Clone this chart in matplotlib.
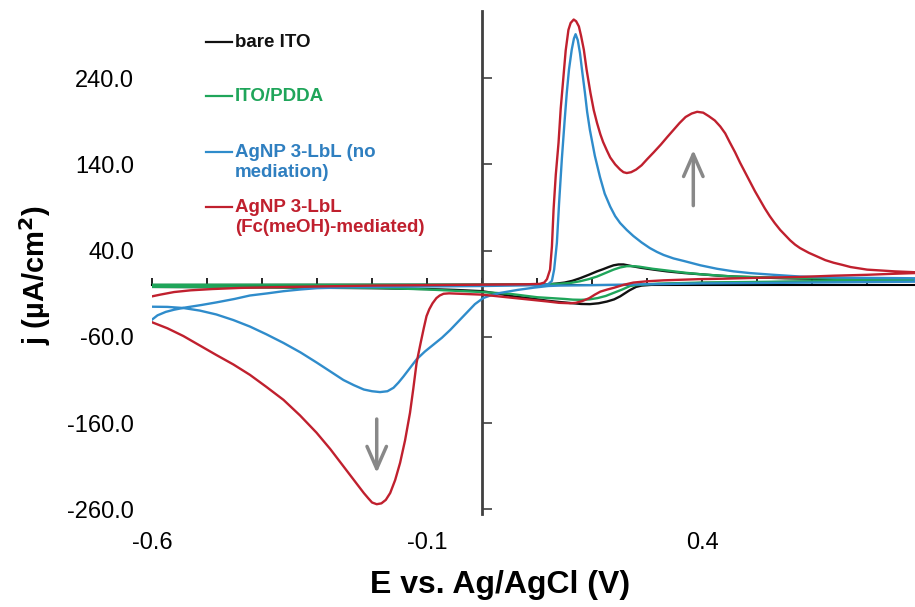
import numpy as np
from matplotlib import pyplot as plt
import matplotlib

# cyclic voltammograms: potential (V) and current density (uA/cm2)
# anodic branch first, then the return (cathodic) branch
red_E = [-0.600, -0.585, -0.560, -0.530, -0.490, -0.440, -0.380, -0.300, -0.200, -0.100, 0.000,
         0.080, 0.105, 0.113, 0.118, 0.1236, 0.127, 0.130, 0.134, 0.139, 0.143, 0.148, 0.152,
         0.157, 0.161, 0.1666, 0.171, 0.176, 0.180, 0.185, 0.190, 0.197, 0.203, 0.209, 0.215,
         0.220, 0.227, 0.233, 0.242, 0.251, 0.257, 0.263, 0.271, 0.280, 0.290, 0.300, 0.312,
         0.325, 0.337, 0.348, 0.359, 0.370, 0.381, 0.391, 0.402, 0.412, 0.423, 0.433, 0.442,
         0.450, 0.460, 0.469, 0.478, 0.487, 0.496, 0.505, 0.514, 0.523, 0.532, 0.542, 0.551,
         0.560, 0.569, 0.578, 0.594, 0.610, 0.624, 0.639, 0.655, 0.670, 0.685, 0.700, 0.725,
         0.750, 0.787,
         0.787, 0.740, 0.700, 0.640, 0.578, 0.500, 0.440, 0.396, 0.360, 0.330, 0.300, 0.275,
         0.258, 0.240, 0.228, 0.215, 0.205, 0.195, 0.182, 0.170, 0.160, 0.140, 0.120, 0.090,
         0.060, 0.030, 0.000, -0.020, -0.040, -0.060, -0.070, -0.077, -0.083, -0.090, -0.096,
         -0.101, -0.106, -0.112, -0.119, -0.125, -0.131, -0.140, -0.149, -0.158, -0.167,
         -0.175, -0.183, -0.1915, -0.200, -0.207, -0.215, -0.233, -0.252, -0.276, -0.301,
         -0.331, -0.361, -0.392, -0.422, -0.452, -0.483, -0.513, -0.543, -0.572, -0.600]
red_j = [-13, -11, -8, -6, -4.5, -3.2, -2.4, -1.5, -0.5, 0, 0.5,
         1, 1.5, 3, 7, 18, 45, 88, 128, 165, 205, 242, 272,
         296, 304, 308, 306, 300, 289, 273, 250, 223, 203, 188, 175,
         166, 156, 148, 140, 134, 131, 130, 131, 134, 139, 146, 154,
         163, 172, 180, 188, 195, 199, 201, 200, 196, 191, 184, 176,
         166, 154, 142, 131, 120, 109, 99, 89, 80, 72, 64, 58,
         52, 47, 43, 37.5, 33, 29, 26, 23.5, 21, 19.5, 18, 17,
         16, 15,
         14, 13, 12, 11, 9.5, 8.5, 7.5, 7, 6.3, 5.6, 4.5, 3,
         0.5, -3, -5, -7.5, -11, -15, -18.5, -20.5, -21, -20.5, -19, -17,
         -15, -13, -11, -10.5, -10, -9.5, -10, -12, -15, -21, -28,
         -36, -50, -68, -90, -120, -148, -180, -206, -226, -241,
         -249, -253, -254, -252, -247, -241, -226, -210, -190, -171,
         -151, -133, -118, -104, -92, -81, -70, -59, -50, -43]

blue_E = [-0.600, -0.590, -0.575, -0.560, -0.540, -0.510, -0.483, -0.450, -0.422, -0.390, -0.361,
          -0.330, -0.300, -0.240, -0.100, 0.000, 0.100, 0.120, 0.127, 0.131, 0.136, 0.140, 0.145,
          0.150, 0.154, 0.158, 0.163, 0.167, 0.170, 0.174, 0.178, 0.182, 0.187, 0.191, 0.196,
          0.205, 0.2145, 0.223, 0.233, 0.242, 0.251, 0.263, 0.275, 0.290, 0.305, 0.318, 0.330,
          0.348, 0.367, 0.397, 0.427, 0.457, 0.487, 0.530, 0.578, 0.630, 0.680, 0.787,
          0.787, 0.600, 0.400, 0.200, 0.140, 0.120, 0.093, 0.065, 0.033, 0.015, 0.002, -0.013,
          -0.028, -0.043, -0.058, -0.073, -0.0885, -0.104, -0.119, -0.131, -0.143, -0.152,
          -0.161, -0.172, -0.1855, -0.200, -0.215, -0.233, -0.252, -0.276, -0.300, -0.330,
          -0.361, -0.392, -0.422, -0.452, -0.483, -0.513, -0.543, -0.572, -0.600]
blue_j = [-40, -35, -31, -28.5, -26, -23, -20, -16, -12, -9.5, -7,
          -5, -3.5, -2.5, -1.5, -1, 0, 1, 5, 18, 49, 95, 146,
          190, 223, 250, 273, 286, 291, 284, 269, 248, 223, 201, 180,
          150, 125, 106, 91, 80, 72, 64, 57, 49.5, 43, 38.5, 35,
          31, 28, 23, 19, 16, 14, 12, 10, 9, 8.5, 8,
          4, 3, 2, 0, -0.5, -1, -3, -5.5, -9, -12, -15, -22,
          -32, -42, -52, -61, -69, -77, -86, -96, -106, -113,
          -119, -123, -124, -123, -121, -116, -110, -100, -90, -78,
          -67, -57, -48, -40.5, -34, -29.5, -26.5, -25.2, -25]

black_E = [-0.600, 0.000, 0.100, 0.120, 0.135, 0.150, 0.164, 0.178, 0.194, 0.209, 0.220, 0.230,
           0.239, 0.248, 0.257, 0.265, 0.277, 0.290, 0.312, 0.336, 0.368, 0.400, 0.430, 0.457,
           0.500, 0.550, 0.639, 0.787,
           0.787, 0.600, 0.400, 0.320, 0.300, 0.290, 0.280, 0.268, 0.251, 0.240, 0.227, 0.212,
           0.196, 0.180, 0.166, 0.140, 0.118, 0.090, 0.057, 0.030, 0.000, -0.050, -0.100,
           -0.200, -0.400, -0.600]
black_j = [0, 0.5, 0.8, 1, 1.8, 3, 5, 8, 12, 16, 18.5, 21,
           23, 24, 24, 23, 21.5, 20, 18, 16, 14, 12.5, 11, 10,
           9, 8, 7, 6.5,
           5, 4, 2.5, 1, 0, -0.5, -2, -6, -13, -16.5, -19, -21,
           -22, -21.8, -21, -19.5, -18, -15.5, -13, -10, -7, -5.5, -4.5,
           -3.5, -2.5, -2]

green_E = [-0.600, 0.000, 0.120, 0.140, 0.160, 0.178, 0.194, 0.209, 0.224, 0.239, 0.251, 0.263,
           0.275, 0.285, 0.310, 0.336, 0.368, 0.400, 0.457, 0.550, 0.639, 0.787,
           0.787, 0.600, 0.400, 0.320, 0.300, 0.285, 0.269, 0.255, 0.239, 0.225, 0.210, 0.195,
           0.180, 0.165, 0.150, 0.125, 0.100, 0.075, 0.050, 0.025, 0.000, -0.050, -0.100,
           -0.179, -0.400, -0.600]
green_j = [0.5, 0.5, 1, 1.6, 2.5, 4.5, 7, 10, 14, 18, 20.5, 22,
           22, 21.5, 19, 17, 14.5, 12.5, 10, 8.5, 7.5, 7,
           5.5, 4.5, 3, 1.8, 1, 0.5, -1, -5, -9, -12.5, -15, -16.5,
           -17, -16.8, -16, -15, -14, -12, -10, -9, -8, -6.5, -5,
           -3.3, -2.5, -2]

labels = ['bare ITO', 'ITO/PDDA', 'AgNP 3-LbL (no\nmediation)', 'AgNP 3-LbL\n(Fc(meOH)-mediated)']
line_colors = ['#111111', '#1fa55a', '#2f8ccb', '#c0202e']
text_colors = ['#111111', '#1fa55a', '#2f7fc0', '#c0202e']

x_major = [-0.6, -0.1, 0.4]
y_major = [-260, -160, -60, 40, 140, 240]


def draw():
    matplotlib.rcParams['font.family'] = ['Liberation Sans', 'DejaVu Sans']
    matplotlib.rcParams['axes.unicode_minus'] = False
    fig = plt.figure(figsize=(9.15, 6.07), dpi=100)
    ax = fig.add_axes([152 / 915, 93.3 / 607, 763 / 915, 502.8 / 607])
    ax.set_xlim(-0.6, 0.787)
    ax.set_ylim(-265, 318)

    curves = [(black_E, black_j), (green_E, green_j), (blue_E, blue_j), (red_E, red_j)]
    for (e, j), c in zip(curves, line_colors):
        ax.plot(e, j, color=c, lw=1.7, zorder=3, solid_joinstyle='round')

    # axes cross at the origin, labels sit on the outer edges
    for s in ['top', 'right']:
        ax.spines[s].set_visible(False)
    ax.spines['bottom'].set_position(('data', 0))
    ax.spines['left'].set_position(('data', 0))
    ax.spines['bottom'].set_linewidth(1.5)
    ax.spines['left'].set_linewidth(2.0)
    ax.spines['left'].set_color('#404040')
    ax.set_xticks(np.round(np.arange(-0.6, 0.75, 0.1), 1))
    ax.set_yticks(y_major)
    ax.tick_params(axis='x', direction='in', length=5, width=1.2, labelbottom=False)
    ax.tick_params(axis='y', direction='in', length=7, width=1.2, colors='#404040', labelleft=False)

    sx = ax.secondary_xaxis('bottom')
    sx.set_xticks(x_major)
    sx.set_xticklabels(['%.1f' % v for v in x_major])
    sx.spines['bottom'].set_visible(False)
    sx.tick_params(length=0, pad=13, labelsize=17)
    sx.set_xlabel('E vs. Ag/AgCl (V)', fontsize=23, fontweight='bold', labelpad=12)
    sx.xaxis.label.set_x(0.456)

    sy = ax.secondary_yaxis('left')
    sy.set_yticks(y_major)
    sy.set_yticklabels(['%.1f' % v for v in y_major])
    sy.spines['left'].set_visible(False)
    sy.tick_params(length=0, pad=13, labelsize=17)
    sy.set_ylabel('j (\u00b5A/cm$^\\mathbf{2}$)', fontsize=21, fontweight='bold', labelpad=10)
    sy.yaxis.label.set_y(0.475)

    # growth arrows
    ax.annotate('', xy=(0.384, 160), xytext=(0.384, 89),
                arrowprops=dict(arrowstyle='->,head_width=0.35,head_length=0.8', color='#888888',
                                lw=2.5, mutation_scale=20))
    ax.annotate('', xy=(-0.1915, -221), xytext=(-0.1915, -152),
                arrowprops=dict(arrowstyle='->,head_width=0.35,head_length=0.8', color='#888888',
                                lw=2.5, mutation_scale=20))

    # hand-placed legend like the original
    rows = [42, 96, 152, 207]
    for lab, lc, tc, yp in zip(labels, line_colors, text_colors, rows):
        yf = 1 - yp / 607
        fig.add_artist(plt.Line2D([206 / 915, 232 / 915], [yf, yf], color=lc, lw=1.6))
        fig.text(235 / 915, yf + 8 / 607, lab, color=tc, fontsize=13.5, fontweight='bold',
                 va='top', ha='left', linespacing=1.25)

    fig.savefig('out.png', dpi=100)


if __name__ == '__main__':
    draw()
